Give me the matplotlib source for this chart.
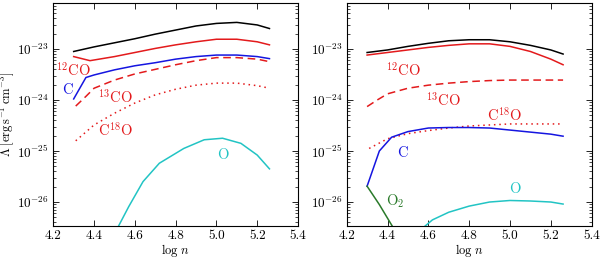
import numpy as np
import matplotlib
matplotlib.use("Agg")
import matplotlib.pyplot as plt
from matplotlib.ticker import LogLocator, MultipleLocator, NullLocator, NullFormatter

plt.rcParams['mathtext.fontset'] = 'cm'
plt.rcParams['font.family'] = ['serif']
plt.rcParams['font.serif'] = ['cmr10', 'DejaVu Serif']
plt.rcParams['axes.formatter.use_mathtext'] = True

# ---- left panel data (log n, log Lambda) ----
L_x = [4.30, 4.40, 4.50, 4.60, 4.70, 4.80, 4.90, 5.00, 5.10, 5.20, 5.26]
L_total = [-23.05, -22.96, -22.88, -22.80, -22.71, -22.63, -22.55, -22.50, -22.48, -22.53, -22.60]
L_12co_x = [4.30, 4.38, 4.50, 4.60, 4.70, 4.80, 4.90, 5.00, 5.10, 5.20, 5.26]
L_12co = [-23.15, -23.23, -23.15, -23.07, -22.99, -22.92, -22.86, -22.81, -22.81, -22.86, -22.92]
L_c_x = [4.30, 4.36, 4.40, 4.50, 4.60, 4.70, 4.80, 4.90, 5.00, 5.10, 5.20, 5.26]
L_c = [-23.98, -23.56, -23.51, -23.41, -23.33, -23.27, -23.20, -23.15, -23.12, -23.12, -23.15, -23.19]
L_13co_x = [4.31, 4.36, 4.40, 4.50, 4.60, 4.70, 4.80, 4.90, 5.00, 5.10, 5.20, 5.26]
L_13co = [-24.12, -23.93, -23.77, -23.61, -23.49, -23.40, -23.31, -23.23, -23.17, -23.17, -23.20, -23.25]
L_c18o_x = [4.31, 4.40, 4.50, 4.60, 4.70, 4.80, 4.90, 5.00, 5.10, 5.20, 5.26]
L_c18o = [-24.80, -24.49, -24.26, -24.06, -23.90, -23.79, -23.71, -23.67, -23.67, -23.72, -23.77]
L_o_x = [4.49, 4.57, 4.64, 4.72, 4.84, 4.94, 5.03, 5.12, 5.20, 5.26]
L_o = [-26.70, -26.09, -25.60, -25.24, -24.95, -24.78, -24.75, -24.85, -25.08, -25.35]

# ---- right panel data ----
R_x = [4.30, 4.40, 4.50, 4.60, 4.70, 4.80, 4.90, 5.00, 5.10, 5.20, 5.26]
R_total = [-23.07, -23.02, -22.95, -22.89, -22.84, -22.82, -22.82, -22.86, -22.93, -23.02, -23.10]
R_12co = [-23.12, -23.07, -23.02, -22.97, -22.93, -22.90, -22.90, -22.95, -23.05, -23.20, -23.31]
R_13co_x = [4.30, 4.35, 4.40, 4.50, 4.60, 4.70, 4.80, 4.90, 5.00, 5.10, 5.26]
R_13co = [-24.13, -24.00, -23.88, -23.77, -23.71, -23.67, -23.64, -23.62, -23.61, -23.61, -23.61]
R_c18o_x = [4.31, 4.40, 4.50, 4.60, 4.70, 4.80, 4.90, 5.00, 5.26]
R_c18o = [-24.95, -24.76, -24.66, -24.60, -24.55, -24.51, -24.49, -24.47, -24.47]
R_c_x = [4.30, 4.36, 4.42, 4.50, 4.60, 4.70, 4.80, 4.90, 5.00, 5.10, 5.20, 5.26]
R_c = [-25.69, -25.00, -24.73, -24.62, -24.55, -24.54, -24.54, -24.55, -24.59, -24.63, -24.67, -24.71]
R_o2_x = [4.30, 4.36, 4.42, 4.45]
R_o2 = [-25.69, -26.05, -26.45, -26.65]
R_o_x = [4.54, 4.62, 4.70, 4.80, 4.90, 5.00, 5.10, 5.20, 5.26]
R_o = [-26.62, -26.35, -26.20, -26.08, -26.00, -25.97, -25.98, -26.00, -26.04]

RED = '#e31a1c'
BLUE = '#1515e0'
CYAN = '#22c4c4'
GREEN = '#2a7a2a'
BLACK = 'black'

fig = plt.figure(figsize=(6.0, 2.57), dpi=100)
axL = fig.add_axes([0.0888, 0.1206, 0.4079, 0.8677])
axR = fig.add_axes([0.5778, 0.1206, 0.4083, 0.8677])

def p(v):
    return 10.0 ** np.asarray(v)

lw = 1.1
axL.plot(L_x, p(L_total), color=BLACK, lw=lw)
axL.plot(L_12co_x, p(L_12co), color=RED, lw=lw)
axL.plot(L_c_x, p(L_c), color=BLUE, lw=lw)
axL.plot(L_13co_x, p(L_13co), color=RED, lw=lw, ls=(0, (5, 3)))
axL.plot(L_c18o_x, p(L_c18o), color=RED, lw=lw, ls=(0, (1, 2.5)))
axL.plot(L_o_x, p(L_o), color=CYAN, lw=lw)

axR.plot(R_x, p(R_total), color=BLACK, lw=lw)
axR.plot(R_x, p(R_12co), color=RED, lw=lw)
axR.plot(R_13co_x, p(R_13co), color=RED, lw=lw, ls=(0, (5, 3)))
axR.plot(R_c18o_x, p(R_c18o), color=RED, lw=lw, ls=(0, (1, 2.5)))
axR.plot(R_c_x, p(R_c), color=BLUE, lw=lw)
axR.plot(R_o2_x, p(R_o2), color=GREEN, lw=lw)
axR.plot(R_o_x, p(R_o), color=CYAN, lw=lw)

fs = 10.5
axL.text(4.30, p(-23.41), r'$^{12}$CO', color=RED, fontsize=fs, ha='center', va='center')
axL.text(4.267, p(-23.80), 'C', color=BLUE, fontsize=fs, ha='center', va='center')
axL.text(4.503, p(-23.94), r'$^{13}$CO', color=RED, fontsize=fs, ha='center', va='center')
axL.text(4.503, p(-24.59), r'C$^{18}$O', color=RED, fontsize=fs, ha='center', va='center')
axL.text(5.03, p(-25.09), 'O', color=CYAN, fontsize=fs, ha='center', va='center')

axR.text(4.477, p(-23.41), r'$^{12}$CO', color=RED, fontsize=fs, ha='center', va='center')
axR.text(4.673, p(-24.00), r'$^{13}$CO', color=RED, fontsize=fs, ha='center', va='center')
axR.text(4.975, p(-24.29), r'C$^{18}$O', color=RED, fontsize=fs, ha='center', va='center')
axR.text(4.472, p(-25.05), 'C', color=BLUE, fontsize=fs, ha='center', va='center')
axR.text(5.024, p(-25.75), 'O', color=CYAN, fontsize=fs, ha='center', va='center')
axR.text(4.44, p(-25.99), r'O$_2$', color=GREEN, fontsize=fs, ha='center', va='center')

for ax in (axL, axR):
    ax.set_yscale('log')
    ax.set_xlim(4.2, 5.4)
    ax.set_ylim(p(-26.47), p(-22.1))
    ax.xaxis.set_major_locator(MultipleLocator(0.2))
    ax.xaxis.set_minor_locator(NullLocator())
    ax.xaxis.set_major_formatter(matplotlib.ticker.FormatStrFormatter('%.1f'))
    ax.yaxis.set_major_locator(LogLocator(base=10, numticks=10))
    ax.yaxis.set_minor_locator(LogLocator(base=10, subs=np.arange(2, 10), numticks=20))
    ax.yaxis.set_minor_formatter(NullFormatter())
    ax.tick_params(which='both', direction='in', top=True, right=True, labelsize=9.5, pad=3)
    ax.tick_params(which='major', length=4, width=0.6)
    ax.tick_params(which='minor', length=2, width=0.5)
    for s in ax.spines.values():
        s.set_linewidth(0.8)
    ax.set_xlabel(r'$\log\,n$', fontsize=9, labelpad=0)

axL.set_ylabel(r'$\Lambda\;[\mathrm{erg\,s^{-1}\,cm^{-3}}]$', fontsize=9, labelpad=1)

fig.savefig('out.png', dpi=100)
